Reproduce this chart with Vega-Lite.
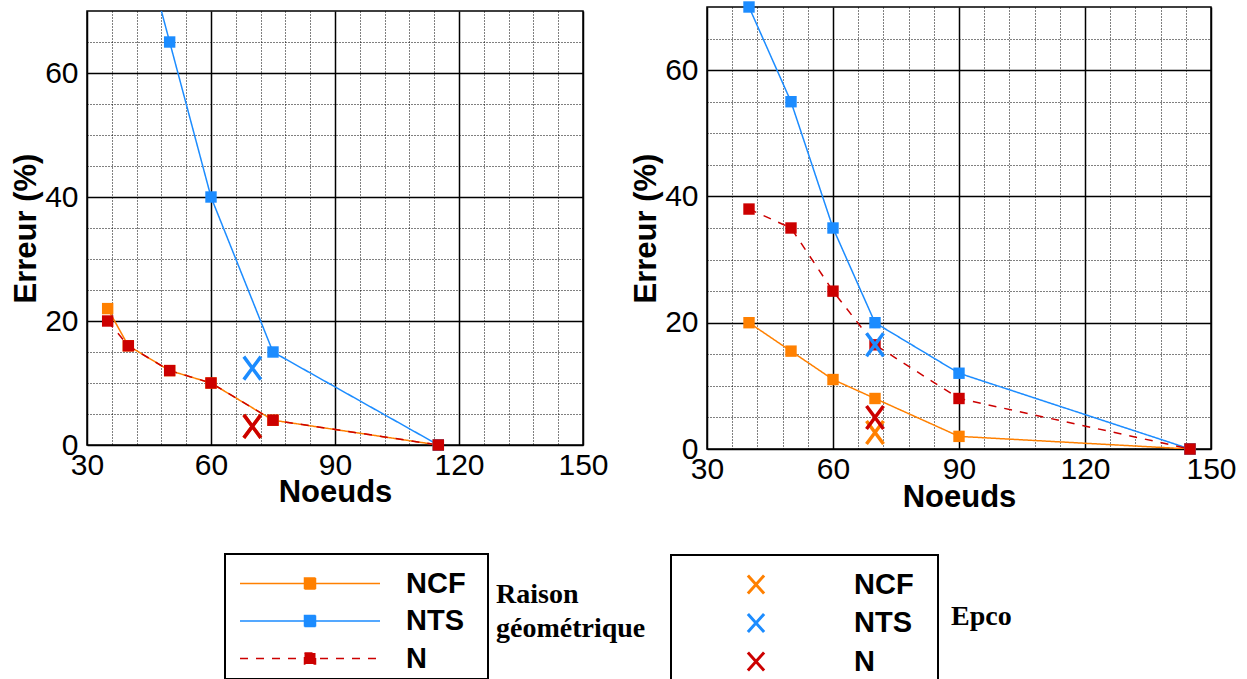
{
  "$schema": "https://vega.github.io/schema/vega-lite/v6.json",
  "padding": {"left": 9, "top": 0, "right": 5, "bottom": 0},
  "background": "white",
  "config": {
    "view": {"stroke": "black", "strokeWidth": 1.5},
    "axis": {
      "labelFont": "Liberation Sans", "labelFontSize": 30, "labelColor": "black",
      "titleFont": "Liberation Sans", "titleFontSize": 31, "titleFontWeight": "bold", "titleColor": "black",
      "domain": false, "ticks": false, "tickSize": 0, "labelFlush": false, "labelOverlap": false,
      "grid": true, "gridColor": "black"
    },
    "legend": {
      "strokeColor": "black", "strokeWidth": 2, "fillColor": "white", "padding": 5,
      "labelFont": "Liberation Sans", "labelFontSize": 29, "labelFontWeight": "bold", "labelColor": "black",
      "titleFontSize": 4, "titlePadding": 6,
      "symbolOpacity": 1
    },
    "title": {"offset": 0}
  },
  "datasets": {
    "left": [
      {"noeuds": 35, "erreur": 22, "serie": "NCF"},
      {"noeuds": 40, "erreur": 16, "serie": "NCF"},
      {"noeuds": 50, "erreur": 12, "serie": "NCF"},
      {"noeuds": 60, "erreur": 10, "serie": "NCF"},
      {"noeuds": 75, "erreur": 4, "serie": "NCF"},
      {"noeuds": 115, "erreur": 0, "serie": "NCF"},
      {"noeuds": 40, "erreur": 90, "serie": "NTS"},
      {"noeuds": 50, "erreur": 65, "serie": "NTS"},
      {"noeuds": 60, "erreur": 40, "serie": "NTS"},
      {"noeuds": 75, "erreur": 15, "serie": "NTS"},
      {"noeuds": 115, "erreur": 0, "serie": "NTS"},
      {"noeuds": 35, "erreur": 20, "serie": "N"},
      {"noeuds": 40, "erreur": 16, "serie": "N"},
      {"noeuds": 50, "erreur": 12, "serie": "N"},
      {"noeuds": 60, "erreur": 10, "serie": "N"},
      {"noeuds": 75, "erreur": 4, "serie": "N"},
      {"noeuds": 115, "erreur": 0, "serie": "N"}
    ],
    "leftEpco": [
      {"noeuds": 70, "erreur": 3, "serie": "NCF"},
      {"noeuds": 70, "erreur": 3, "serie": "N"},
      {"noeuds": 70, "erreur": 12.4, "serie": "NTS"}
    ],
    "right": [
      {"noeuds": 40, "erreur": 20, "serie": "NCF"},
      {"noeuds": 50, "erreur": 15.5, "serie": "NCF"},
      {"noeuds": 60, "erreur": 11, "serie": "NCF"},
      {"noeuds": 70, "erreur": 8, "serie": "NCF"},
      {"noeuds": 90, "erreur": 2, "serie": "NCF"},
      {"noeuds": 145, "erreur": 0, "serie": "NCF"},
      {"noeuds": 40, "erreur": 70, "serie": "NTS"},
      {"noeuds": 50, "erreur": 55, "serie": "NTS"},
      {"noeuds": 60, "erreur": 35, "serie": "NTS"},
      {"noeuds": 70, "erreur": 20, "serie": "NTS"},
      {"noeuds": 90, "erreur": 12, "serie": "NTS"},
      {"noeuds": 145, "erreur": 0, "serie": "NTS"},
      {"noeuds": 40, "erreur": 38, "serie": "N"},
      {"noeuds": 50, "erreur": 35, "serie": "N"},
      {"noeuds": 60, "erreur": 25, "serie": "N"},
      {"noeuds": 70, "erreur": 16.5, "serie": "N"},
      {"noeuds": 90, "erreur": 8, "serie": "N"},
      {"noeuds": 145, "erreur": 0, "serie": "N"}
    ],
    "rightEpco": [
      {"noeuds": 70, "erreur": 2.6, "serie": "NCF"},
      {"noeuds": 70, "erreur": 5, "serie": "N"},
      {"noeuds": 70, "erreur": 16.5, "serie": "NTS"}
    ]
  },
  "hconcat": [
    {
      "width": 496,
      "height": 434,
      "title": {"text": ["Raison", "géométrique"], "orient": "bottom", "anchor": "start", "frame": "group", "align": "left", "font": "Liberation Serif", "fontWeight": "bold", "fontSize": 28, "lineHeight": 34, "color": "black", "dx": 409, "dy": -103},
      "encoding": {
        "x": {"field": "noeuds", "type": "quantitative", "scale": {"domain": [30, 150], "nice": false, "zero": false},
          "axis": {"title": "Noeuds", "values": [30,36,42,48,54,60,66,72,78,84,90,96,102,108,114,120,126,132,138,144,150],
            "labelExpr": "datum.value % 30 === 0 ? datum.label : ''", "labelPadding": 5, "titleY": 32,
            "gridDash": {"condition": {"test": "datum.value % 30 === 0", "value": []}, "value": [1, 2]},
            "gridWidth": {"condition": {"test": "datum.value % 30 === 0", "value": 1.5}, "value": 1}}},
        "y": {"field": "erreur", "type": "quantitative", "scale": {"domain": [0, 70], "nice": false},
          "axis": {"title": "Erreur (%)", "values": [0,5,10,15,20,25,30,35,40,45,50,55,60,65],
            "labelExpr": "datum.value % 20 === 0 ? datum.label : ''", "labelPadding": 9, "titleX": -45,
            "gridDash": {"condition": {"test": "datum.value % 20 === 0", "value": []}, "value": [1, 2]},
            "gridWidth": {"condition": {"test": "datum.value % 20 === 0", "value": 1.5}, "value": 1}}}
      },
      "layer": [
        {
          "data": {"name": "left"},
          "mark": {"type": "line", "clip": true, "strokeWidth": 1.5},
          "encoding": {
            "stroke": {"field": "serie", "type": "nominal", "scale": {"domain": ["NCF", "NTS", "N"], "range": ["#FF8000", "#1C8CFF", "#CC0000"]},
              "legend": {"title": "\u00a0", "orient": "none", "legendX": 138, "legendY": 543, "symbolType": "M-7,0H7M-0.55,-0.55H0.55V0.55H-0.55ZM17.0,0", "symbolSize": 400, "symbolStrokeWidth": 1.5, "symbolOffset": 65.5, "labelOffset": 81.5, "rowPadding": 7.5}},
            "strokeDash": {"field": "serie", "type": "nominal", "scale": {"domain": ["NCF", "NTS", "N"], "range": [[1, 0], [1, 0], [8, 8]]},
              "legend": {"title": "\u00a0", "orient": "none", "legendX": 138, "legendY": 543, "symbolType": "M-7,0H7M-0.55,-0.55H0.55V0.55H-0.55ZM17.0,0", "symbolSize": 400, "symbolStrokeWidth": 1.5, "symbolOffset": 65.5, "labelOffset": 81.5, "rowPadding": 7.5}}
          }
        },
        {
          "data": {"name": "left"},
          "transform": [{"filter": "datum.erreur <= 70"}],
          "mark": {"type": "point", "shape": "square", "filled": true, "size": 130, "opacity": 1},
          "encoding": {
            "fill": {"field": "serie", "type": "nominal", "scale": {"domain": ["NCF", "NTS", "N"], "range": ["#FF8000", "#1C8CFF", "#CC0000"]},
              "legend": {"title": "\u00a0", "orient": "none", "legendX": 138, "legendY": 543, "symbolType": "M-7,0H7M-0.55,-0.55H0.55V0.55H-0.55ZM17.0,0", "symbolSize": 400, "symbolStrokeWidth": 1.5, "symbolOffset": 65.5, "labelOffset": 81.5, "rowPadding": 7.5}}
          }
        },
        {
          "data": {"name": "leftEpco"},
          "mark": {"type": "point", "shape": "M-0.74,-1L0.74,1M0.74,-1L-0.74,1", "filled": false, "size": 529, "strokeWidth": 3.5, "opacity": 1},
          "encoding": {
            "color": {"field": "serie", "type": "nominal", "scale": {"range": ["#CC0000", "#FF8000", "#1C8CFF"]}, "legend": null}
          }
        }
      ]
    },
    {
      "width": 504,
      "height": 442,
      "title": {"text": "Epco", "orient": "bottom", "anchor": "start", "frame": "group", "align": "left", "font": "Liberation Serif", "fontWeight": "bold", "fontSize": 28, "color": "black", "dx": 244, "dy": -84},
      "encoding": {
        "x": {"field": "noeuds", "type": "quantitative", "scale": {"domain": [30, 150], "nice": false, "zero": false},
          "axis": {"title": "Noeuds", "values": [30,36,42,48,54,60,66,72,78,84,90,96,102,108,114,120,126,132,138,144,150],
            "labelExpr": "datum.value % 30 === 0 ? datum.label : ''", "labelPadding": 5, "titleY": 33,
            "gridDash": {"condition": {"test": "datum.value % 30 === 0", "value": []}, "value": [1, 2]},
            "gridWidth": {"condition": {"test": "datum.value % 30 === 0", "value": 1.5}, "value": 1}}},
        "y": {"field": "erreur", "type": "quantitative", "scale": {"domain": [0, 70], "nice": false},
          "axis": {"title": "Erreur (%)", "values": [0,5,10,15,20,25,30,35,40,45,50,55,60,65],
            "labelExpr": "datum.value % 20 === 0 ? datum.label : ''", "labelPadding": 9, "titleX": -45,
            "gridDash": {"condition": {"test": "datum.value % 20 === 0", "value": []}, "value": [1, 2]},
            "gridWidth": {"condition": {"test": "datum.value % 20 === 0", "value": 1.5}, "value": 1}}}
      },
      "layer": [
        {
          "data": {"name": "right"},
          "mark": {"type": "line", "clip": true, "strokeWidth": 1.5},
          "encoding": {
            "stroke": {"field": "serie", "type": "nominal", "scale": {"range": ["#CC0000", "#FF8000", "#1C8CFF"]}, "legend": null},
            "strokeDash": {"field": "serie", "type": "nominal", "scale": {"range": [[8, 8], [1, 0], [1, 0]]}, "legend": null}
          }
        },
        {
          "data": {"name": "right"},
          "mark": {"type": "point", "shape": "square", "filled": true, "size": 130, "opacity": 1},
          "encoding": {
            "fill": {"field": "serie", "type": "nominal", "scale": {"range": ["#CC0000", "#FF8000", "#1C8CFF"]}, "legend": null}
          }
        },
        {
          "data": {"name": "rightEpco"},
          "mark": {"type": "point", "shape": "M-0.74,-1L0.74,1M0.74,-1L-0.74,1", "filled": false, "size": 529, "strokeWidth": 3.5, "opacity": 1},
          "encoding": {
            "color": {"field": "serie", "type": "nominal", "scale": {"domain": ["NCF", "NTS", "N"], "range": ["#FF8000", "#1C8CFF", "#CC0000"]},
              "legend": {"title": "\u00a0", "orient": "none", "legendX": -36, "legendY": 548, "symbolType": "M-0.9,-1L0.9,1M0.9,-1L-0.9,1M19.0,0", "symbolSize": 324, "symbolStrokeWidth": 3, "symbolOffset": 65.5, "labelOffset": 83.5, "rowPadding": 7.5}}
          }
        }
      ]
    }
  ],
  "spacing": 124,
  "bounds": "flush",
  "center": true,
  "resolve": {
    "scale": {"x": "independent", "y": "independent", "stroke": "independent", "strokeDash": "independent", "fill": "independent", "color": "independent"},
    "legend": {"stroke": "independent", "strokeDash": "independent", "fill": "independent", "color": "independent"}
  }
}
